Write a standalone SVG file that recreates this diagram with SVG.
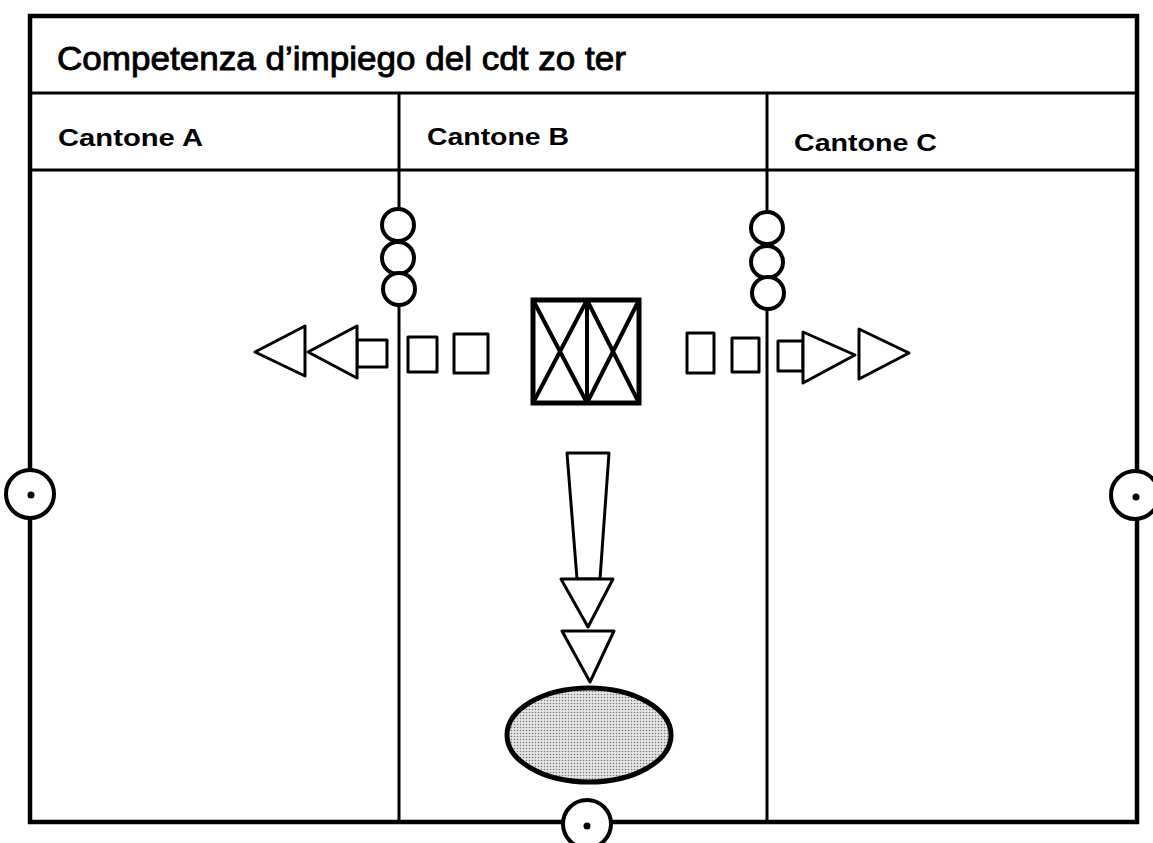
<svg xmlns="http://www.w3.org/2000/svg" width="1153" height="843" viewBox="0 0 1153 843">
<style>
.frame{fill:none;stroke:#000;stroke-width:4.5}
.line{fill:none;stroke:#000;stroke-width:3}
.shape{fill:#fff;stroke:#000;stroke-width:3;stroke-linejoin:round}
.bead{fill:#fff;stroke:#000;stroke-width:4}
.node{fill:#fff;stroke:#000;stroke-width:4}
.dot{fill:#000}
.title{font-family:"Liberation Sans Narrow","Liberation Sans",Arial,sans-serif;font-size:34px;fill:#000;stroke:#000;stroke-width:0.9}
.head{font-family:"Liberation Sans",Arial,sans-serif;font-weight:bold;font-size:23px;fill:#000}
</style>
<defs>
<pattern id="stipple" width="3" height="3" patternUnits="userSpaceOnUse">
<rect width="3" height="3" fill="#e6e6e6"/>
<circle cx="1.5" cy="1.5" r="0.8" fill="#777"/>
</pattern>
</defs>
<rect width="1153" height="843" fill="#fff"/>
<g id="table">
<rect class="frame" x="30" y="16" width="1107" height="806"/>
<line class="line" x1="30" y1="93" x2="1137" y2="93"/>
<line class="line" x1="30" y1="170" x2="1137" y2="170"/>
<line class="line" x1="399" y1="93" x2="399" y2="822"/>
<line class="line" x1="767" y1="93" x2="767" y2="822"/>
<text class="title" x="57" y="70" textLength="569" lengthAdjust="spacingAndGlyphs">Competenza d’impiego del cdt zo ter</text>
<text class="head" x="58" y="146" textLength="145" lengthAdjust="spacingAndGlyphs">Cantone A</text>
<text class="head" x="427" y="145" textLength="142" lengthAdjust="spacingAndGlyphs">Cantone B</text>
<text class="head" x="794" y="151" textLength="143" lengthAdjust="spacingAndGlyphs">Cantone C</text>
</g>
<g id="boundary-left">
<circle class="bead" cx="398" cy="225" r="16"/>
<circle class="bead" cx="398" cy="258" r="16"/>
<circle class="bead" cx="399" cy="289" r="16"/>
</g>
<g id="boundary-right">
<circle class="bead" cx="767" cy="228" r="16"/>
<circle class="bead" cx="767" cy="262" r="16"/>
<circle class="bead" cx="768" cy="293" r="16"/>
</g>
<g id="command-post">
<rect x="533" y="300" width="106" height="103" fill="#fff" stroke="#000" stroke-width="5"/>
<line x1="587" y1="300" x2="587" y2="403" stroke="#000" stroke-width="4"/>
<path d="M533 300 L587 403 M587 300 L533 403 M587 300 L639 403 M639 300 L587 403" stroke="#000" stroke-width="4" fill="none"/>
</g>
<g id="connectors">
<g id="arrow-left">
<rect class="shape" x="357" y="340" width="30" height="27"/>
<polygon class="shape" points="308,352 357,326 357,378"/>
<polygon class="shape" points="255,352 305,326 305,376"/>
<rect class="shape" x="408" y="337" width="29" height="35"/>
<rect class="shape" x="454" y="334" width="34" height="39"/>
</g>
<g id="arrow-right">
<rect class="shape" x="687" y="333" width="27" height="40"/>
<rect class="shape" x="732" y="338" width="27" height="34"/>
<rect class="shape" x="778" y="341" width="25" height="30"/>
<polygon class="shape" points="803,332 855,355 803,383"/>
<polygon class="shape" points="859,329 909,353 859,379"/>
</g>
<g id="arrow-down">
<polygon class="shape" points="567,453 609,453 600,579 577,579"/>
<polygon class="shape" points="561,579 613,579 588,627"/>
<polygon class="shape" points="562,631 614,631 590,682"/>
</g>
</g>
<g id="target">
<ellipse cx="589" cy="735" rx="82" ry="47" fill="url(#stipple)" stroke="#000" stroke-width="5"/>
</g>
<g id="post-left">
<circle class="node" cx="30" cy="494" r="24"/>
<circle class="dot" cx="31" cy="495" r="3.5"/>
</g>
<g id="post-right">
<circle class="node" cx="1135" cy="495" r="24"/>
<circle class="dot" cx="1136" cy="497" r="3.5"/>
</g>
<g id="post-bottom">
<circle class="node" cx="587" cy="824" r="24"/>
<circle class="dot" cx="587" cy="826" r="3.5"/>
</g>
</svg>
